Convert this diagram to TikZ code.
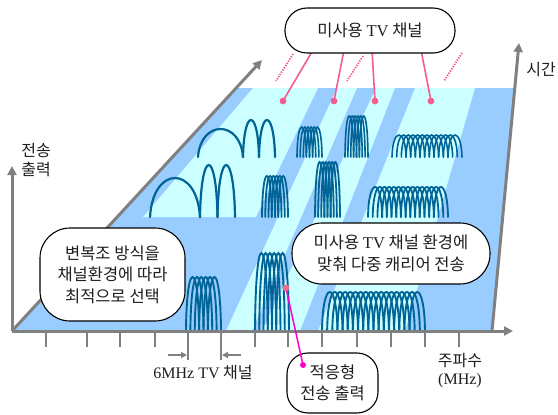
\documentclass[tikz,border=0pt]{standalone}
\usepackage{fontspec}
\setmainfont{Liberation Serif}
\newfontfamily\kr{Noto Sans CJK KR}
\usetikzlibrary{arrows.meta,calc}
\definecolor{planeblue}{RGB}{153,204,255}
\definecolor{planecyan}{RGB}{204,255,255}
\definecolor{carrierc}{RGB}{0,100,150}
\definecolor{axisgray}{RGB}{128,128,128}
\definecolor{pinkc}{RGB}{242,92,142}
\definecolor{magc}{RGB}{255,0,204}
\definecolor{txt}{RGB}{30,30,30}
\newcommand{\lat}[1]{{\rmfamily #1}}
\newcommand{\carriergroup}[6]{%
  \pgfmathsetmacro{\cs}{(#2-#1)/(#5+2)}%
  \pgfmathsetmacro{\cw}{3*\cs}%
  \pgfmathsetmacro{\cy}{#3-4/3*(#3-#4)}%
  \foreach \k in {1,...,#5}{%
    \pgfmathsetmacro{\xa}{#1+(\k-1)*\cs}%
    \pgfmathsetmacro{\xb}{\xa+\cw}%
    \draw[carrier,line width=#6] (\xa,#3) .. controls ({\xa+0.04*\cw},\cy) and ({\xb-0.04*\cw},\cy) .. (\xb,#3);
  }}
\newcommand{\archone}[4]{%
  \pgfmathsetmacro{\ay}{#3-4/3*(#3-#4)}%
  \pgfmathsetmacro{\aw}{(#2-#1)*0.06}%
  \draw[carrier,line width=2.2pt] (#1,#3) .. controls ({#1+\aw},\ay) and ({#2-\aw},\ay) .. (#2,#3);}
\tikzset{
  carrier/.style={draw=carrierc,line cap=round},
  axisline/.style={draw=axisgray,line width=3pt,-{Triangle[length=9pt,width=9pt]}},
  tickline/.style={draw=axisgray,line width=2.4pt},
  smallarrow/.style={draw=axisgray,line width=1.8pt,-{Triangle[length=6pt,width=6pt]}},
  bubble/.style={draw=black,fill=white,line width=1.1pt,inner sep=0pt,align=center,
     text=txt,font=\kr\fontsize{16.5pt}{21.5pt}\selectfont},
  lbl/.style={inner sep=0pt,align=center,text=txt,font=\kr\fontsize{16pt}{19pt}\selectfont},
  pinkline/.style={draw=pinkc,line width=1.6pt},
  pinkdots/.style={draw=pinkc,line width=1.8pt,dash pattern=on 1.3pt off 1.3pt},
  pinkdot/.style={fill=pinkc,draw=none},
}
\begin{document}
\begin{tikzpicture}[x=1pt,y=-1pt]
\useasboundingbox (0,0) rectangle (558,415);
% plane
\fill[planeblue] (12,331) -- (236,88) -- (514,88) -- (492,331) -- cycle;
\fill[planecyan] (253,88) -- (318,88) -- (255.9,217) -- (143,217) -- cycle;
\fill[planecyan] (337,88) -- (357,88) -- (252,331) -- (226,331) -- cycle;
\fill[planecyan] (376,88) -- (395,88) -- (300,331) -- (262,331) -- cycle;
\fill[planecyan] (415,88) -- (475,88) -- (405,331) -- (318,331) -- cycle;
% modulation arcs
\archone{150}{200}{217}{178}
\archone{200}{217.5}{217}{165}
\archone{217.5}{235}{217}{165}
\archone{198}{243}{157}{129}
\archone{243}{259}{157}{120}
\archone{259}{275}{157}{120}
% carrier groups
\carriergroup{297}{322}{157}{127}{6}{1.6pt}
\carriergroup{345}{368}{157}{116}{6}{1.6pt}
\carriergroup{392}{462}{157}{135}{13}{1.6pt}
\carriergroup{262}{288}{217}{176}{6}{1.8pt}
\carriergroup{315}{340}{217}{162}{6}{1.8pt}
\carriergroup{368}{448}{217}{187}{15}{1.8pt}
\carriergroup{186}{221}{331}{277}{6}{1.9pt}
\carriergroup{255}{289}{331}{253}{6}{1.9pt}
\carriergroup{322}{425}{331}{292}{18}{1.9pt}
% axes
\coordinate (O) at (12,331);
\coordinate (Ytop) at (12,166);
\coordinate (Dtop) at (262,60);
\coordinate (Xend) at (513,331);
\coordinate (Rbot) at (492,331);
\coordinate (Rtop) at (519,43);
\draw[axisline] (O) -- (Ytop);
\draw[axisline] (O) -- (Dtop);
\draw[axisline] (Rbot) -- (Rtop);
\draw[axisline] (O) -- (Xend);
\foreach \x in {46,87,120,155,255,288,322,357,391,425,459}
  \draw[tickline] (\x,331) -- (\x,347);
\foreach \x in {188,221}
  \draw[tickline] (\x,331) -- (\x,360);
\coordinate (a1s) at (168,355); \coordinate (a1e) at (187,355);
\coordinate (a2s) at (241,355); \coordinate (a2e) at (222,355);
\draw[smallarrow] (a1s) -- (a1e);
\draw[smallarrow] (a2s) -- (a2e);
% pink connectors to unused channels
\coordinate (d1) at (283,101); \coordinate (d2) at (334,101);
\coordinate (d3) at (375,101); \coordinate (d4) at (431,101);
\coordinate (s1) at (313,50); \coordinate (s2) at (344,50);
\coordinate (s3) at (372,50); \coordinate (s4) at (421,50);
\draw[pinkline] (s1) -- (d1);
\draw[pinkline] (s2) -- (d2);
\draw[pinkline] (s3) -- (d3);
\draw[pinkline] (s4) -- (d4);
\foreach \d in {d1,d2,d3,d4} \fill[pinkdot] (\d) circle (3.4pt);
\draw[pinkdots] (293,54) -- (276,81);
\draw[pinkdots] (363,56) -- (347,81);
\draw[pinkdots] (462,53) -- (444,81);
% bubbles
\node[bubble,minimum width=170pt,minimum height=45pt,rounded corners=22pt] (b1) at (370,30.5)
  {미사용 \lat{TV} 채널};
\node[bubble,minimum width=145pt,minimum height=93pt,rounded corners=30pt] (b2) at (112.5,274.5)
  {변복조 방식을\\채널환경에 따라\\최적으로 선택};
\node[bubble,minimum width=198pt,minimum height=61pt,rounded corners=30pt] (b3) at (391,253.5)
  {미사용 \lat{TV} 채널 환경에\\맞춰 다중 캐리어 전송};
\node[bubble,minimum width=91pt,minimum height=60pt,rounded corners=21pt] (b4) at (332.5,383)
  {적응형\\전송 출력};
% adaptive output connector
\coordinate (p1) at (286,288);
\coordinate (p2) at (303,365);
\draw[draw=magc,line width=1.5pt] (p1) -- (p2);
\fill[fill={rgb,255:red,240;green,110;blue,140}] (p1) circle (3.4pt);
\fill[fill=magc] (p2) circle (3pt);
% labels
\node[lbl] (lpow) at (36,160) {전송\\출력};
\node[lbl] (ltime) at (541,70) {시간};
\node[lbl,font=\kr\fontsize{16pt}{18pt}\selectfont] (lfreq) at (460,371) {주파수\\\lat{(MHz)}};
\node[lbl] (lch) at (203,373) {\lat{6MHz TV} 채널};
\end{tikzpicture}
\end{document}
